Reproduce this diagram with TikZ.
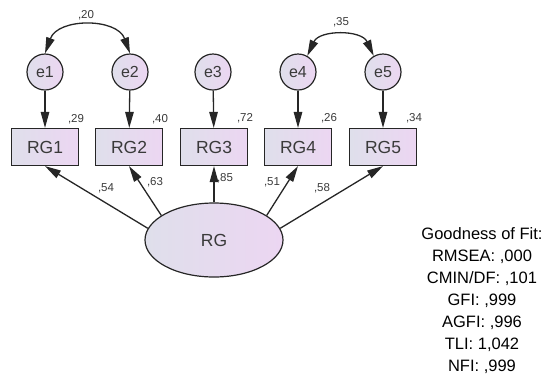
\documentclass[tikz,border=0pt]{standalone}
\usepackage{fontspec}
\setmainfont{Liberation Sans}
\usetikzlibrary{arrows.meta,shapes.geometric}
\definecolor{ink}{HTML}{262626}
\definecolor{txt}{HTML}{3A3A3A}
\definecolor{fillL}{HTML}{DFDFEB}
\definecolor{fillR}{HTML}{ECD6F2}
\begin{document}
\begin{tikzpicture}[x=1pt,y=-1pt,
  shaded/.style={draw=ink, line width=1.2pt, left color=fillL, right color=fillR, text=txt, inner sep=0pt},
  obs/.style={shaded, rectangle, minimum width=67pt, minimum height=37pt, font=\fontsize{17.5}{20}\selectfont},
  err/.style={shaded, circle, minimum size=36pt, font=\fontsize{16}{18}\selectfont},
  lat/.style={shaded, ellipse, minimum width=138pt, minimum height=74pt, font=\fontsize{17.5}{20}\selectfont},
  tip/.tip={Triangle[length=16pt,width=8.5pt]},
  reg/.style={draw=ink, line width=1.3pt, -tip},
  cov/.style={draw=ink, line width=1.3pt, tip-tip},
  est/.style={font=\fontsize{11.5}{13}\selectfont, text=txt, inner sep=0pt},
  fit/.style={font=\fontsize{16.5}{22}\selectfont, text=black, align=center, inner sep=0pt}
]
\useasboundingbox (0,0) rectangle (544,376);

% error terms
\node[err] (e1) at (45,72) {e1};
\node[err] (e2) at (130,72) {e2};
\node[err] (e3) at (213,72) {e3};
\node[err] (e4) at (298,72) {e4};
\node[err] (e5) at (383,72) {e5};

% observed indicators
\node[obs] (RG1) at (45,147) {RG1};
\node[obs] (RG2) at (129,147) {RG2};
\node[obs] (RG3) at (214,147) {RG3};
\node[obs] (RG4) at (298,147) {RG4};
\node[obs] (RG5) at (383,147) {RG5};

% latent factor
\node[lat] (RG) at (214,240) {RG};

% residual paths
\foreach \i in {1,...,5}
  \draw[reg] (e\i) -- (RG\i);

% loadings
\draw[reg] (RG.170) -- (RG1.south);
\draw[reg] (RG.155) -- (RG2.south);
\draw[reg] (RG.north) -- (RG3.south);
\draw[reg] (RG.25) -- (RG4.south);
\draw[reg] (RG.10) -- (RG5.south);

% error covariances
\draw[cov] (e1.north) .. controls +(70:38pt) and +(110:38pt) .. (e2.north);
\draw[cov] (e4.60) .. controls +(65:29pt) and +(115:29pt) .. (e5.120);

% estimates
\node[est] (c12) at (86,15) {,20};
\node[est] (c45) at (341,22) {,35};
\node[est] (r1) at (76,119) {,29};
\node[est] (r2) at (160,119) {,40};
\node[est] (r3) at (245,118) {,72};
\node[est] (r4) at (329,118) {,26};
\node[est] (r5) at (414,118) {,34};
\node[est] (l1) at (106,188) {,54};
\node[est] (l2) at (155,182) {,63};
\node[est] (l3) at (225,178) {,85};
\node[est] (l4) at (272,182) {,51};
\node[est] (l5) at (322,188) {,58};

% fit indices
\node[fit, anchor=north] (gof) at (482,227) {Goodness of Fit:\\RMSEA: ,000\\CMIN/DF: ,101\\GFI: ,999\\AGFI: ,996\\TLI: 1,042\\NFI: ,999};
\end{tikzpicture}
\end{document}
